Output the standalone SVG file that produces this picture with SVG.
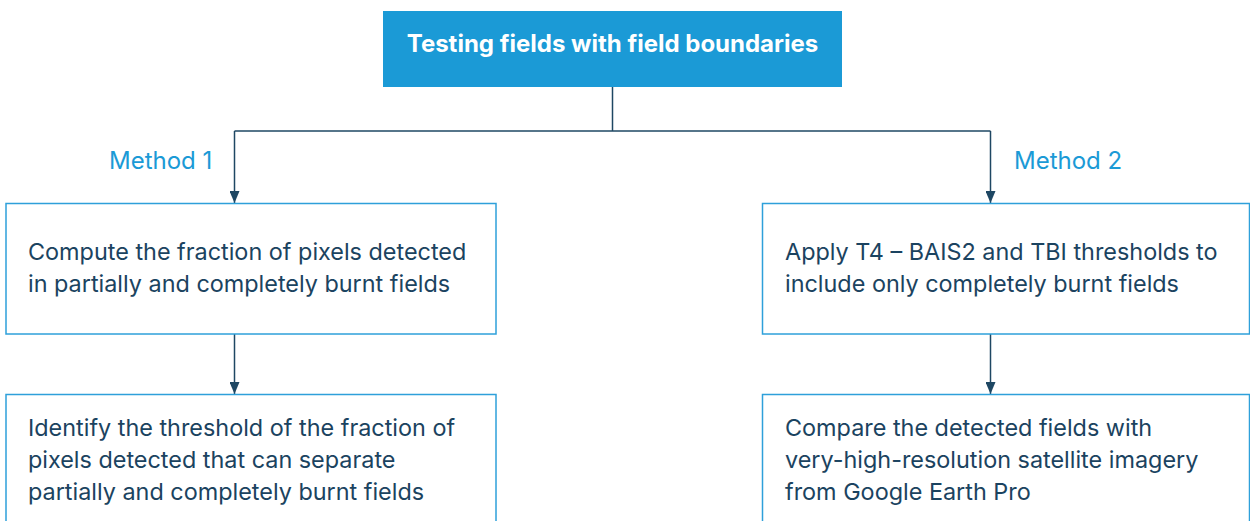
<svg xmlns="http://www.w3.org/2000/svg" width="1250" height="521" viewBox="0 0 1250 521">
<defs>
<style>
.box{fill:#ffffff;stroke:#2ea0da;stroke-width:1.5}
.txt{font-family:Inter,"Open Sans",sans-serif;font-size:23.4px;fill:#1b4360}
.lbl{font-family:Inter,"Open Sans",sans-serif;font-size:24px;fill:#1b9ad6}
.title{font-family:Inter,"Open Sans",sans-serif;font-size:24px;font-weight:bold;fill:#ffffff}
.conn{fill:none;stroke:#1e4763;stroke-width:1.5}
</style>
<marker id="ah" markerWidth="12" markerHeight="10" refX="12" refY="5" orient="auto" markerUnits="userSpaceOnUse">
<path d="M0,0 L12,5 L0,10 Z" fill="#1e4763"/>
</marker>
</defs>
<rect width="1250" height="521" fill="#ffffff"/>
<g id="connectors">
<path class="conn" d="M612.5,87 V131"/>
<path class="conn" d="M234.5,131 H990.5"/>
<path class="conn" d="M234.5,131 V203" marker-end="url(#ah)"/>
<path class="conn" d="M990.5,131 V203" marker-end="url(#ah)"/>
<path class="conn" d="M234.5,334 V394" marker-end="url(#ah)"/>
<path class="conn" d="M990.5,334 V394" marker-end="url(#ah)"/>
</g>
<g id="title">
<rect x="383" y="11" width="459" height="76" fill="#1b9ad6"/>
<text class="title" x="612.5" y="52" text-anchor="middle">Testing fields with field boundaries</text>
</g>
<g id="label1"><text class="lbl" x="109" y="169">Method 1</text></g>
<g id="label2"><text class="lbl" x="1014" y="169">Method 2</text></g>
<g id="m1a">
<rect class="box" x="6" y="203.5" width="490" height="130.5"/>
<text class="txt" x="28" y="260">Compute the fraction of pixels detected</text>
<text class="txt" x="28" y="292">in partially and completely burnt fields</text>
</g>
<g id="m1b">
<rect class="box" x="6" y="394.5" width="490" height="140"/>
<text class="txt" x="28" y="436">Identify the threshold of the fraction of</text>
<text class="txt" x="28" y="468">pixels detected that can separate</text>
<text class="txt" x="28" y="500">partially and completely burnt fields</text>
</g>
<g id="m2a">
<rect class="box" x="762.5" y="203.5" width="487" height="130.5"/>
<text class="txt" x="785" y="260">Apply T4 – BAIS2 and TBI thresholds to</text>
<text class="txt" x="785" y="292">include only completely burnt fields</text>
</g>
<g id="m2b">
<rect class="box" x="762.5" y="394.5" width="487" height="140"/>
<text class="txt" x="785" y="436">Compare the detected fields with</text>
<text class="txt" x="785" y="468">very-high-resolution satellite imagery</text>
<text class="txt" x="785" y="500">from Google Earth Pro</text>
</g>
</svg>
